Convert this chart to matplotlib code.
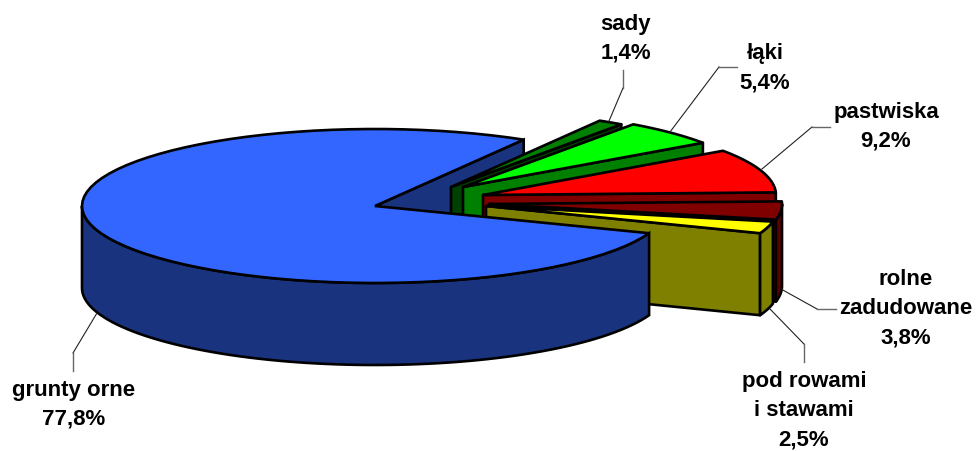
import numpy as np
import matplotlib
matplotlib.use("Agg")
import matplotlib.pyplot as plt
from matplotlib.patches import Polygon

plt.rcParams['font.family'] = ['Liberation Sans', 'DejaVu Sans']

categories = ['grunty orne', 'sady', 'łąki', 'pastwiska', 'rolne\nzadudowane', 'pod rowami\ni stawami']
values = [77.8, 1.4, 5.4, 9.2, 3.8, 2.5]

top_colors = ['#3366ff', '#008000', '#00ff00', '#ff0000', '#800000', '#ffff00']
face_colors = ['#1a337f', '#004000', '#008000', '#800000', '#4a0000', '#808000']
wall_colors = ['#1a337f', '#004000', '#008000', '#800000', '#5c0000', '#808000']

# apex of every slice in pixels (slices are pulled out by hand in the original)
apex = [(375, 207), (451, 188), (463, 188), (483, 196), (489, 205), (486, 207)]
label_pos = [(74, 405), (626, 39), (765, 68), (886, 127), (906, 309), (804, 411)]
leaders = [
    [(97, 314), (73, 354), (73, 372)],
    [(609, 122), (623, 89), (623, 71)],
    [(670, 133), (719, 68), (737, 68)],
    [(762, 170), (812, 128), (830, 128)],
    [(781, 290), (817, 310), (836, 310)],
    [(770, 310), (804, 345), (804, 363)],
]

rx = 293
ry = 77
depth = 82
start = 59.5
edge_w = 1.9


def rim(ax0, ay0, a1, a2, dy=0):
    t = np.radians(np.linspace(a1, a2, 80))
    return np.column_stack([ax0 + rx * np.cos(t), ay0 - ry * np.sin(t) + dy])


def draw_slice(ax, i, a1, a2, zorder):
    # a1 > a2, going clockwise from a1 to a2
    x0, y0 = apex[i]
    kw = dict(edgecolor='black', linewidth=edge_w, joinstyle='round', zorder=zorder)
    # cut face on the clockwise side
    p = rim(x0, y0, a2, a2)[0]
    pts = [(x0, y0), tuple(p), (p[0], p[1] + depth), (x0, y0 + depth)]
    ax.add_patch(Polygon(pts, closed=True, facecolor=face_colors[i], **kw))
    # outer wall, only the front half is seen
    w1 = min(a1, 0)
    if w1 > a2:
        up = rim(x0, y0, w1, a2)
        down = rim(x0, y0, a2, w1, depth)
        ax.add_patch(Polygon(np.vstack([up, down]), closed=True, facecolor=wall_colors[i], **kw))
    # top
    pts = np.vstack([[(x0, y0)], rim(x0, y0, a1, a2)])
    ax.add_patch(Polygon(pts, closed=True, facecolor=top_colors[i], **kw))


fig = plt.figure(figsize=(9.8, 4.52), dpi=100)
ax = fig.add_axes([0, 0, 1, 1])
ax.set_xlim(0, 980)
ax.set_ylim(452, 0)
ax.axis('off')

sweep = np.array(values) / sum(values) * 360.0

# big slice runs counter clockwise from the start angle
big_end = start + sweep[0]

# its back cut face goes first, the rest of it goes over the small slices
x0, y0 = apex[0]
p = rim(x0, y0, start, start)[0]
ax.add_patch(Polygon([(x0, y0), tuple(p), (p[0], p[1] + depth), (x0, y0 + depth)], closed=True,
                     facecolor=face_colors[0], edgecolor='black', linewidth=edge_w, zorder=1))

a = start
for i in range(1, len(values)):
    draw_slice(ax, i, a, a - sweep[i], 2 + i)
    a -= sweep[i]

# wall and top of the big slice
up = rim(x0, y0, 180, big_end)
down = rim(x0, y0, big_end, 180, depth)
ax.add_patch(Polygon(np.vstack([up, down]), closed=True, facecolor=wall_colors[0],
                     edgecolor='black', linewidth=edge_w, zorder=20))
top = np.vstack([[(x0, y0)], rim(x0, y0, start, big_end)])
ax.add_patch(Polygon(top, closed=True, facecolor=top_colors[0],
                     edgecolor='black', linewidth=edge_w, zorder=21))

for line in leaders:
    xs, ys = zip(*line)
    ax.plot(xs[:2], ys[:2], color='#222222', lw=0.8, zorder=30)
    ax.plot(xs[1:], ys[1:], color='#666666', lw=1.0, zorder=30)

for name, v, pos in zip(categories, values, label_pos):
    txt = name + '\n' + ('%.1f%%' % v).replace('.', ',')
    ax.text(pos[0], pos[1], txt, ha='center', va='center', fontsize=16,
            fontweight='bold', linespacing=1.5, color='black', zorder=31)

fig.savefig('out.png', dpi=100)
